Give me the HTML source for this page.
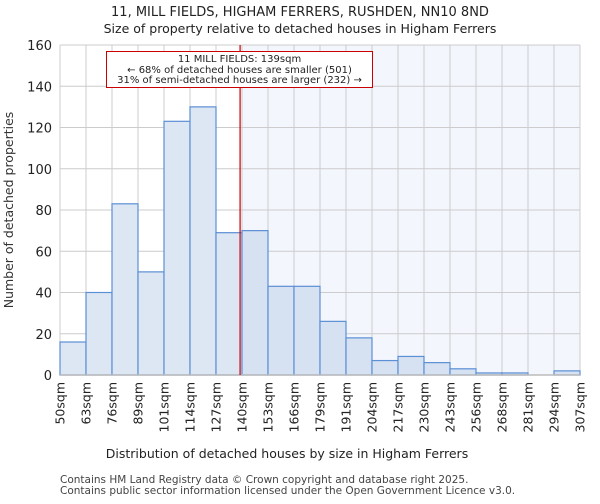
<!DOCTYPE html>
<html><head><meta charset="utf-8"><style>
body{margin:0;background:#fff;font-family:"DejaVu Sans","Liberation Sans",sans-serif;}
svg text{font-family:"DejaVu Sans","Liberation Sans",sans-serif;}
</style></head><body>
<svg id="c" width="600" height="500" xmlns="http://www.w3.org/2000/svg">
<text x="300" y="16" text-anchor="middle" font-size="13" fill="#222">11, MILL FIELDS, HIGHAM FERRERS, RUSHDEN, NN10 8ND</text>
<text x="300" y="33" text-anchor="middle" font-size="12.5" fill="#222">Size of property relative to detached houses in Higham Ferrers</text>
<g id="plot"></g>
<text x="287" y="458" text-anchor="middle" font-size="12.5" fill="#222">Distribution of detached houses by size in Higham Ferrers</text>
<text transform="translate(13,210) rotate(-90)" text-anchor="middle" font-size="12.5" fill="#333">Number of detached properties</text>
<text x="60" y="483" font-size="10.5" fill="#444">Contains HM Land Registry data © Crown copyright and database right 2025.</text>
<text x="60" y="494" font-size="10.5" fill="#444">Contains public sector information licensed under the Open Government Licence v3.0.</text>
</svg>
<script>
const binLabels=["50sqm","63sqm","76sqm","89sqm","101sqm","114sqm","127sqm","140sqm","153sqm","166sqm","179sqm","191sqm","204sqm","217sqm","230sqm","243sqm","256sqm","268sqm","281sqm","294sqm","307sqm"];
const counts=[16,40,83,50,123,130,69,70,43,43,26,18,7,9,6,3,1,1,0,2];
const yTicks=[0,20,40,60,80,100,120,140,160];
const markerValue=139;
const binStart=50, binWidth=12.85;
const L=60,R=580,T=45,B=375,YMAX=160;
const NS="http://www.w3.org/2000/svg";
const g=document.getElementById('plot');
const n=counts.length;
const xIdx=i=>L+(R-L)*i/n;
const xVal=v=>L+(R-L)*(v-binStart)/(binWidth*n);
const y=v=>B-(B-T)*v/YMAX;
function mk(t,a){const e=document.createElementNS(NS,t);for(const k in a)e.setAttribute(k,a[k]);g.appendChild(e);return e;}
const mx=xVal(markerValue);
let e=mk('rect',{x:mx,y:T,width:R-mx,height:B-T,fill:'#f3f6fd'});


yTicks.forEach(t=>{let l=mk('line',{x1:L,x2:R,y1:y(t),y2:y(t),stroke:'#ccc','stroke-width':1});


let tx=mk('text',{x:L-8,y:y(t)+5,'text-anchor':'end','font-size':13,fill:'#222'});tx.textContent=t;

});
binLabels.forEach((lb,i)=>{let l=mk('line',{x1:xIdx(i),x2:xIdx(i),y1:T,y2:B,stroke:'#ccc','stroke-width':1});


let tx=mk('text',{transform:`translate(${xIdx(i)+4.5},382) rotate(-90)`,'text-anchor':'end','font-size':12.5,fill:'#222'});tx.textContent=lb;

});
counts.forEach((c,i)=>{const x0=xIdx(i);let r=mk('rect',{x:x0,y:y(c),width:xIdx(i+1)-x0,height:B-y(c),fill:x0>=mx?'#d6e1f1':'#dde6f3',stroke:'#5b8fd6','stroke-width':1.2});

});
e=mk('line',{x1:L,x2:R,y1:B,y2:B,stroke:'#bbb','stroke-width':1.5});


e=mk('line',{x1:mx,x2:mx,y1:T,y2:B,stroke:'#cc0000','stroke-width':1.2});


e=mk('rect',{x:106.5,y:51.5,width:266,height:36,fill:'#fff',stroke:'#cc0000','stroke-width':1});


[["11 MILL FIELDS: 139sqm",62],["← 68% of detached houses are smaller (501)",73],["31% of semi-detached houses are larger (232) →",83]].forEach(([s,yy])=>{let t=mk('text',{x:239.5,y:yy,'text-anchor':'middle','font-size':10,fill:'#222'});t.textContent=s;

});
</script>
</body></html>
